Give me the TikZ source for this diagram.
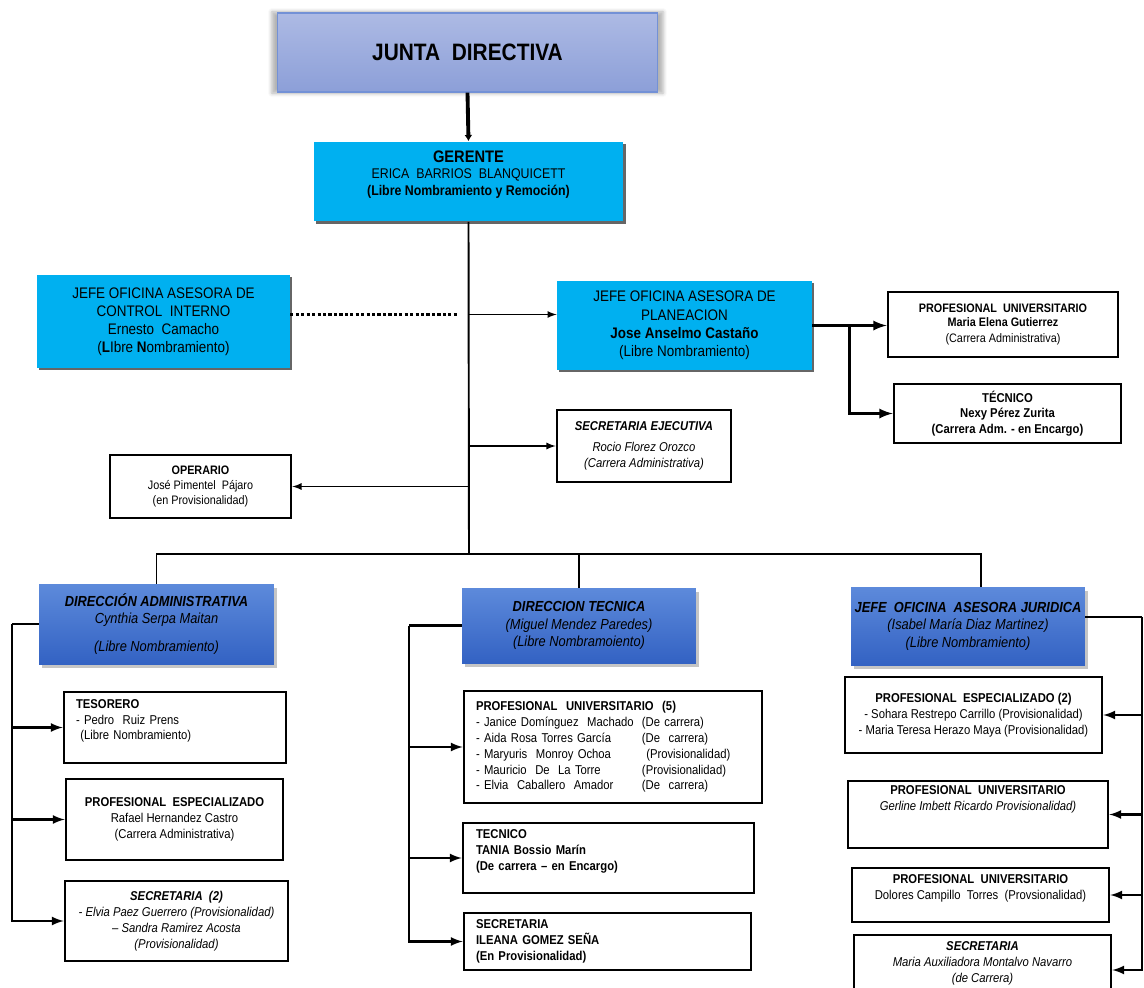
\documentclass[tikz,border=0pt]{standalone}
\usepackage{fontspec}
\setmainfont[FakeStretch=0.88]{Liberation Sans}
\usepackage{tikz}
\usetikzlibrary{calc}
\usetikzlibrary{arrows,arrows.meta,shapes,shadows,shadows.blur}

\definecolor{juntatop}{HTML}{ADBAE4}
\definecolor{juntabot}{HTML}{8C9FD8}
\definecolor{juntaline}{HTML}{7391D6}
\definecolor{cielo}{HTML}{00B0F0}
\definecolor{dirtop}{HTML}{5D8ADB}
\definecolor{dirbot}{HTML}{3362C3}

\tikzset{
  juntabox/.style={draw=juntaline, line width=0.8pt, top color=juntatop, bottom color=juntabot,
    blur shadow={shadow xshift=0pt, shadow yshift=0pt, shadow scale=1.03, shadow opacity=30},
    font=\fontsize{13.5}{15}\selectfont\bfseries},
  cielobox/.style={fill=cielo, drop shadow={shadow xshift=1.3pt, shadow yshift=-1.3pt, fill=black!75, opacity=0.8},
    align=center, inner sep=0pt},
  dirbox/.style={top color=dirtop, bottom color=dirbot, drop shadow={shadow xshift=1.5pt, shadow yshift=-2pt, fill=black!45, opacity=0.5},
    align=center, inner sep=0pt, font=\fontsize{8.3}{10}\selectfont},
  cargo/.style={draw, line width=1.6pt, fill=white, align=center, inner sep=0pt, font=\fontsize{7.3}{9}\selectfont},
  linea/.style={line width=1.1pt},
  media/.style={line width=1.3pt},
  gruesa/.style={line width=1.6pt},
  flecha/.style={line width=0.8pt, -latex},
  punteada/.style={line width=1.8pt, dash pattern=on 1.8pt off 1.3pt},
}

\begin{document}
\begin{tikzpicture}[x=0.02cm, y=-0.02cm]
\useasboundingbox (0,0) rectangle (1144,988);
\clip (0,0) rectangle (1144,988);

\node[juntabox, minimum width=7.6cm, minimum height=1.58cm] (junta) at (467.5,52.5) {JUNTA\ \ DIRECTIVA};
\node[cielobox, minimum width=6.2cm, minimum height=1.6cm, font=\fontsize{8}{9.6}\selectfont] (gerente) at (468.5,181.5)
  {{\fontsize{9.5}{9.6}\selectfont\bfseries GERENTE}\\ERICA\ \ BARRIOS\ \ BLANQUICETT\\\textbf{(Libre Nombramiento y Remoción)}\\\mbox{}};

\node[cielobox, minimum width=5.06cm, minimum height=1.86cm, font=\fontsize{8.7}{10.2}\selectfont] (control) at (163.5,321.5)
  {JEFE OFICINA ASESORA DE\\CONTROL\ \ INTERNO\\Ernesto\ \ Camacho\\(\textbf{L}Ibre \textbf{N}ombramiento)};
\node[cielobox, minimum width=5.1cm, minimum height=1.78cm, font=\fontsize{8.7}{10.4}\selectfont] (planeacion) at (684.5,325.5)
  {JEFE OFICINA ASESORA DE\\PLANEACION\\\textbf{Jose Anselmo Castaño}\\(Libre Nombramiento)};

\node[cargo, minimum width=4.6cm, minimum height=1.3cm, font=\fontsize{7}{7.6}\selectfont] (profplan) at (1003,324.5)
  {\textbf{PROFESIONAL\ \ UNIVERSITARIO}\\\textbf{Maria Elena Gutierrez}\\[1.5pt](Carrera Administrativa)};
\node[cargo, minimum width=4.54cm, minimum height=1.18cm, font=\fontsize{7.3}{9}\selectfont\bfseries] (tecplan) at (1007.5,413.5)
  {TÉCNICO\\Nexy Pérez Zurita\\(Carrera Adm. - en Encargo)};
\node[cargo, minimum width=3.48cm, minimum height=1.44cm] (secej) at (644,446)
  {\textbf{\textit{SECRETARIA EJECUTIVA}}\\[3pt]\textit{Rocio Florez Orozco}\\\textit{(Carrera Administrativa)}};
\node[cargo, minimum width=3.62cm, minimum height=1.26cm, font=\fontsize{7}{8.6}\selectfont] (operario) at (200.5,486.5)
  {\textbf{OPERARIO}\\José Pimentel\ \ Pájaro\\(en Provisionalidad)};

\node[dirbox, minimum width=4.7cm, minimum height=1.6cm] (diradm) at (156.5,624)
  {\textbf{\textit{DIRECCIÓN ADMINISTRATIVA}}\\\textit{Cynthia Serpa Maitan}\\[6pt]\textit{(Libre Nombramiento)}};
\node[dirbox, minimum width=4.68cm, minimum height=1.5cm] (dirtec) at (579,625.5)
  {\textbf{\textit{DIRECCION TECNICA}}\\\textit{(Miguel Mendez Paredes)}\\\textit{(Libre Nombramoiento)}};
\node[dirbox, minimum width=4.68cm, minimum height=1.56cm] (dirjur) at (968,626)
  {\textbf{\textit{JEFE\ \ OFICINA\ \ ASESORA JURIDICA}}\\\textit{(Isabel María Diaz Martinez)}\\\textit{(Libre Nombramiento)}};

\node[cargo, minimum width=4.44cm, minimum height=1.42cm, text width=3.96cm, align=left] (tesorero) at (175,727.5)
  {\textbf{TESORERO}\\- Pedro\ \ Ruiz Prens\\\ (Libre Nombramiento)\\\mbox{}};
\node[cargo, minimum width=4.34cm, minimum height=1.62cm] (profesp) at (174.5,819.5)
  {\textbf{PROFESIONAL\ \ ESPECIALIZADO}\\Rafael Hernandez Castro\\(Carrera Administrativa)};
\node[cargo, minimum width=4.46cm, minimum height=1.6cm] (secadm) at (176.5,921)
  {\textbf{\textit{SECRETARIA\ \ (2)}}\\\textit{- Elvia Paez Guerrero (Provisionalidad)}\\\textit{-- Sandra Ramirez Acosta}\\\textit{(Provisionalidad)}};

\node[cargo, minimum width=5.96cm, minimum height=2.24cm, text width=5.48cm, align=left] (profuniv) at (613,747)
  {\textbf{PROFESIONAL\ \ UNIVERSITARIO\ \ (5)}\\
   \makebox[3.32cm][l]{- Janice Domínguez\ \ Machado}(De carrera)\\
   \makebox[3.32cm][l]{- Aida Rosa Torres García}(De\ \ carrera)\\
   \makebox[3.32cm][l]{- Maryuris\ \ Monroy Ochoa}\ (Provisionalidad)\\
   \makebox[3.32cm][l]{- Mauricio\ \ De\ \ La Torre}(Provisionalidad)\\
   \makebox[3.32cm][l]{- Elvia\ \ Caballero\ \ Amador}(De\ \ carrera)};
\node[cargo, minimum width=5.82cm, minimum height=1.4cm, text width=5.3cm, align=left, font=\fontsize{7.3}{9}\selectfont\bfseries] (tectec) at (608.5,858)
  {TECNICO\\TANIA Bossio Marín\\(De carrera -- en Encargo)\\\mbox{}};
\node[cargo, minimum width=5.74cm, minimum height=1.14cm, text width=5.26cm, align=left, font=\fontsize{7.3}{9}\selectfont\bfseries] (sectec) at (607.5,941.5)
  {SECRETARIA\\ILEANA GOMEZ SEÑA\\(En Provisionalidad)};

\node[cargo, minimum width=5.14cm, minimum height=1.52cm] (profespjur) at (973.5,715)
  {\textbf{PROFESIONAL\ \ ESPECIALIZADO (2)}\\- Sohara Restrepo Carrillo\ (Provisionalidad)\\- Maria Teresa Herazo Maya (Provisionalidad)};
\node[cargo, minimum width=5.2cm, minimum height=1.34cm] (univjura) at (978,814.5)
  {\textbf{PROFESIONAL\ \ UNIVERSITARIO}\\\textit{Gerline Imbett Ricardo Provisionalidad)}\\[10pt]\mbox{}};
\node[cargo, minimum width=5.14cm, minimum height=1.08cm] (univjurb) at (980.5,895)
  {\textbf{PROFESIONAL\ \ UNIVERSITARIO}\\Dolores Campillo\ \ Torres\ \ (Provsionalidad)\\\mbox{}};
\node[cargo, minimum width=5.14cm, minimum height=1.4cm] (secjur) at (982.5,970)
  {\textbf{\textit{SECRETARIA}}\\\textit{Maria Auxiliadora Montalvo Navarro}\\\textit{(de Carrera)}\\\mbox{}};

\draw[line width=2.2pt, -{Latex[length=3.5pt,width=4.5pt]}] (junta.south) -- (gerente.north);

\coordinate (bus) at (469,554);
\draw[linea] (gerente.south) -- (bus);
\draw[linea] (diradm.north) |- (bus) -| ($(dirjur.north)+(13,0)$);
\draw[linea] (bus -| dirtec.north) -- (dirtec.north);

\coordinate (plin) at ($(planeacion.west)+(0,-11)$);
\coordinate (dotend) at ($(gerente.south |- plin)+(-12,0)$);
\draw[flecha] (gerente.south |- plin) -- (plin);
\draw[punteada] (control.east |- plin) -- (dotend);
\draw[flecha] (gerente.south |- secej.west) -- (secej.west);
\draw[flecha] (gerente.south |- operario.east) -- (operario.east);

\coordinate (plfork) at ($(planeacion.east)+(37,0)$);
\draw[gruesa] (planeacion.east) -- (plfork);
\draw[gruesa, -latex] (plfork) -- (plfork -| profplan.west);
\draw[gruesa, -latex] (plfork) |- (tecplan.west);

\coordinate (admbar) at ($(diradm.west)+(-27,0)$);
\draw[media] (diradm.west) -- (admbar);
\draw[media, -latex] (admbar) |- (tesorero.west);
\draw[media, -latex] (admbar) |- (profesp.west);
\draw[media, -latex] (admbar) |- (secadm.west);

\coordinate (tecbar) at ($(dirtec.west)+(-53,0)$);
\draw[media] (dirtec.west) -- (tecbar);
\draw[media, -latex] (tecbar) |- (profuniv.west);
\draw[media, -latex] (tecbar) |- (tectec.west);
\draw[media, -latex] (tecbar) |- (sectec.west);

\coordinate (jurbar) at ($(dirjur.east)+(57,-9)$);
\draw[media] ($(dirjur.east)+(0,-9)$) -- (jurbar);
\draw[media, -latex] (jurbar) |- (profespjur.east);
\draw[media, -latex] (jurbar) |- (univjura.east);
\draw[media, -latex] (jurbar) |- (univjurb.east);
\draw[media, -latex] (jurbar) |- (secjur.east);
\end{tikzpicture}
\end{document}
